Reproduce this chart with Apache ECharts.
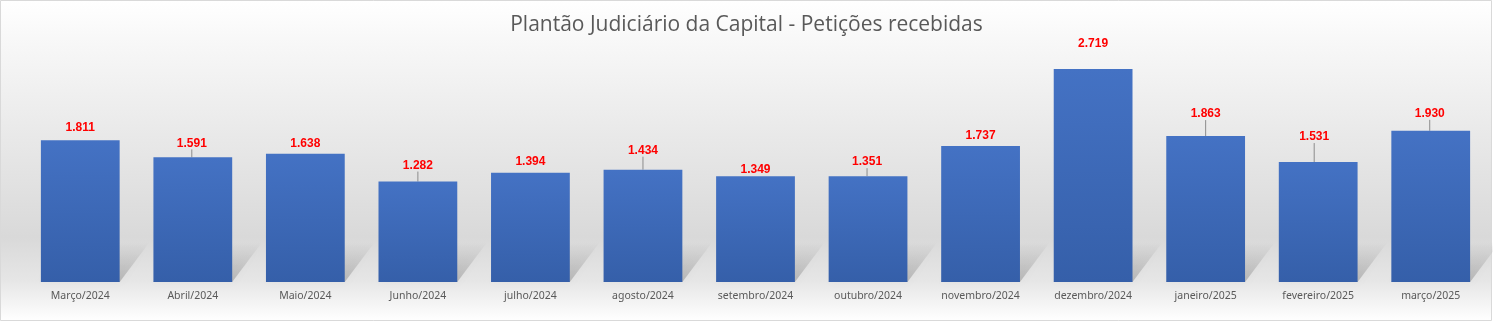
<!DOCTYPE html>
<html>
<head>
<meta charset="utf-8">
<script src="https://cdn.jsdelivr.net/npm/echarts@6/dist/echarts.min.js"></script>
<style>
  html, body { margin: 0; padding: 0; background: #ffffff; }
  #chart { width: 1493px; height: 322px; }
</style>
</head>
<body>
<div id="chart"></div>
<script>
// Monthly petitions received by the on-call court
const categories = [
  'Março/2024', 'Abril/2024', 'Maio/2024', 'Junho/2024', 'julho/2024',
  'agosto/2024', 'setembro/2024', 'outubro/2024', 'novembro/2024',
  'dezembro/2024', 'janeiro/2025', 'fevereiro/2025', 'março/2025'
];
const petitions = [1811, 1591, 1638, 1282, 1394, 1434, 1349, 1351, 1737, 2719, 1863, 1531, 1930];

const fmt = v => v.toLocaleString('pt-BR');

// Extra vertical/horizontal nudges for value labels, and which get a leader line
const labelNudgeY = [-2, -4, 0, -6, -1, -9, 3, -4, 0, -15, -12, -15, -7];
const labelNudgeX = [0, -1, 0, 0, 0, 0, 0, -1, 0, 0, 0, -4, -1];
const withLeader = [false, true, false, true, false, true, false, true, false, false, true, true, true];

const chart = echarts.init(document.getElementById('chart'), null, { renderer: 'canvas' });

const option = {
  animation: false,
  backgroundColor: 'transparent',
  graphic: [{
    type: 'rect',
    z: -10,
    shape: { x: 0.5, y: 0.5, width: 1491, height: 320 },
    style: {
      fill: new echarts.graphic.LinearGradient(0, 0, 0, 1, [
        { offset: 0, color: '#ffffff' },
        { offset: 0.12, color: '#f8f8f8' },
        { offset: 0.74, color: '#d9d9d9' },
        { offset: 0.875, color: '#e6e6e6' },
        { offset: 1, color: '#ffffff' }
      ]),
      stroke: '#d9d9d9',
      lineWidth: 1
    }
  }],
  title: {
    text: 'Plantão Judiciário da Capital - Petições recebidas',
    left: 'center',
    top: 10,
    textStyle: {
      fontFamily: 'Open Sans',
      fontSize: 21,
      fontWeight: 'normal',
      color: '#595959'
    }
  },
  grid: { left: 24, right: 6, top: 47, bottom: 40 },
  xAxis: {
    type: 'category',
    data: categories,
    axisLine: { show: false },
    axisTick: { show: false },
    axisLabel: {
      interval: 0,
      margin: 9,
      fontFamily: 'Noto Sans',
      fontSize: 10.5,
      color: '#595959'
    }
  },
  yAxis: {
    type: 'value',
    min: 0,
    max: 3000,
    show: false,
    splitLine: { show: false }
  },
  series: [
    {
      // soft floor shadow cast behind each bar
      type: 'custom',
      z: 1,
      silent: true,
      data: petitions.map((v, i) => [i, v]),
      renderItem: function (params, api) {
        const base = api.coord([api.value(0), 0]);
        const band = api.size([1, 0])[0];
        const w = band * 0.7;
        const x0 = base[0] - w / 2;
        const x1 = base[0] + w / 2;
        const y0 = base[1];
        const h = 40, sh = 30;
        return {
          type: 'polygon',
          shape: { points: [[x0, y0], [x1, y0], [x1 + sh, y0 - h], [x0 + sh, y0 - h]] },
          style: {
            fill: new echarts.graphic.LinearGradient(0, 1, 0, 0, [
              { offset: 0, color: 'rgba(0,0,0,0.2)' },
              { offset: 0.6, color: 'rgba(0,0,0,0.08)' },
              { offset: 1, color: 'rgba(0,0,0,0)' }
            ]),
            shadowBlur: 8,
            shadowColor: 'rgba(0,0,0,0.15)'
          }
        };
      }
    },
    {
      type: 'bar',
      z: 2,
      barWidth: '70%',
      data: petitions.map((v, i) => ({
        value: v,
        labelLine: { show: withLeader[i] }
      })),
      itemStyle: {
        color: new echarts.graphic.LinearGradient(0, 0, 0, 1, [
          { offset: 0, color: '#4472c4' },
          { offset: 1, color: '#355fa9' }
        ])
      },
      label: {
        show: true,
        position: 'top',
        distance: 4,
        formatter: p => fmt(p.value),
        fontFamily: 'Liberation Sans',
        fontSize: 12,
        fontWeight: 'bold',
        color: '#ff0000'
      },
      labelLine: {
        show: true,
        lineStyle: { color: '#8c8c8c', width: 1 }
      },
      labelLayout: function (params) {
        const i = params.dataIndex;
        return { dx: labelNudgeX[i], dy: labelNudgeY[i] };
      }
    }
  ]
};

chart.setOption(option);
</script>
</body>
</html>
